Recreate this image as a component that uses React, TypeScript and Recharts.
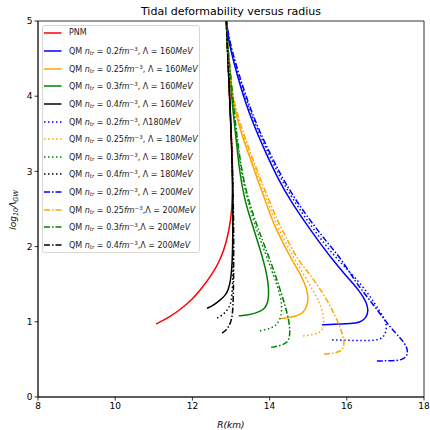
import React from "react";
import { LineChart, Line, XAxis, YAxis, ReferenceArea } from "recharts";

type P = [number, number];

const xTicks = [8, 10, 12, 14, 16, 18];
const yTicks = [0, 1, 2, 3, 4, 5];

const pnm: P[] = [[11.06,0.97],[11.4,1.06],[11.68,1.16],[12.0,1.3],[12.2,1.42],[12.5,1.62],[12.72,1.82],[12.88,2.05],[13.0,2.35],[13.05,2.7],[13.04,3.1],[13.0,3.6],[12.96,4.0],[12.92,4.5],[12.88,5.0]];

const q02_160: P[] = [[15.36,0.96],[15.8,0.97],[16.1,0.975],[16.34,0.99],[16.5,1.05],[16.56,1.14],[16.52,1.25],[16.35,1.4],[16.0,1.6],[15.64,1.82],[15.3,2.05],[14.95,2.3],[14.55,2.6],[14.2,2.92],[13.9,3.25],[13.6,3.6],[13.35,3.95],[13.15,4.3],[13.0,4.6],[12.92,4.8],[12.88,5]];
const q025_160: P[] = [[14.24,1.04],[14.55,1.06],[14.79,1.09],[14.92,1.15],[15.0,1.26],[14.99,1.38],[14.92,1.5],[14.78,1.65],[14.58,1.82],[14.35,2.05],[14.1,2.3],[13.9,2.6],[13.68,2.9],[13.48,3.2],[13.3,3.45],[13.16,3.7],[13.02,4.0],[12.94,4.4],[12.9,4.7],[12.88,5]];
const q03_160: P[] = [[13.2,1.08],[13.45,1.09],[13.67,1.12],[13.84,1.16],[13.93,1.22],[13.98,1.33],[13.97,1.5],[13.9,1.7],[13.78,1.92],[13.64,2.15],[13.49,2.39],[13.34,2.65],[13.22,3.0],[13.14,3.4],[13.05,3.8],[12.97,4.3],[12.9,4.7],[12.88,5.0]];
const q04_160: P[] = [[12.38,1.18],[12.55,1.22],[12.72,1.29],[12.85,1.35],[12.93,1.42],[12.99,1.55],[13.02,1.7],[13.04,1.9],[13.05,2.3],[13.04,2.8],[13.02,3.3],[12.98,3.8],[12.94,4.3],[12.9,4.7],[12.88,5.0]];

const q02_180: P[] = [[15.62,0.76],[16.2,0.75],[16.6,0.75],[16.86,0.76],[16.99,0.82],[17.04,0.93],[16.98,1.05],[16.86,1.13],[16.6,1.35],[16.2,1.6],[15.77,1.82],[15.4,2.05],[15.04,2.3],[14.64,2.6],[14.27,2.92],[13.96,3.25],[13.65,3.6],[13.39,3.95],[13.18,4.3],[13.02,4.6],[12.93,4.8],[12.88,5]];
const q025_180: P[] = [[14.87,0.81],[15.1,0.83],[15.3,0.85],[15.4,0.92],[15.41,0.98],[15.39,1.1],[15.3,1.25],[15.12,1.42],[14.92,1.6],[14.66,1.82],[14.42,2.05],[14.17,2.3],[13.95,2.6],[13.72,2.9],[13.51,3.2],[13.33,3.45],[13.18,3.7],[13.03,4.0],[12.95,4.4],[12.9,4.7],[12.88,5]];
const q03_180: P[] = [[13.75,0.88],[13.92,0.9],[14.06,0.92],[14.18,0.96],[14.27,1.03],[14.32,1.14],[14.3,1.3],[14.2,1.48],[14.03,1.72],[13.86,1.95],[13.7,2.17],[13.55,2.4],[13.4,2.68],[13.26,3.0],[13.16,3.4],[13.07,3.8],[12.98,4.3],[12.91,4.7],[12.88,5]];
const q04_180: P[] = [[12.64,1.05],[12.78,1.09],[12.88,1.14],[12.96,1.2],[13.01,1.28],[13.04,1.45],[13.06,1.8],[13.06,2.3],[13.05,2.8],[13.02,3.3],[12.98,3.8],[12.94,4.3],[12.9,4.7],[12.88,5.0]];

const q02_200: P[] = [[16.78,0.48],[17.1,0.48],[17.46,0.49],[17.58,0.56],[17.57,0.66],[17.4,0.78],[17.12,0.93],[16.8,1.15],[16.5,1.35],[16.2,1.55],[15.88,1.82],[15.5,2.05],[15.12,2.3],[14.7,2.6],[14.32,2.92],[14.0,3.25],[13.68,3.6],[13.42,3.95],[13.2,4.3],[13.03,4.6],[12.94,4.8],[12.88,5]];
const q025_200: P[] = [[15.41,0.57],[15.65,0.58],[15.86,0.61],[15.93,0.68],[15.93,0.76],[15.85,0.9],[15.7,1.08],[15.49,1.29],[15.25,1.48],[15.0,1.66],[14.74,1.82],[14.5,2.05],[14.24,2.3],[14.0,2.6],[13.76,2.9],[13.54,3.2],[13.36,3.45],[13.2,3.7],[13.04,4.0],[12.96,4.4],[12.9,4.7],[12.88,5]];
const q03_200: P[] = [[14.04,0.66],[14.25,0.68],[14.42,0.71],[14.51,0.77],[14.53,0.87],[14.5,1.02],[14.4,1.22],[14.26,1.45],[14.1,1.7],[13.9,1.97],[13.73,2.2],[13.58,2.42],[13.42,2.68],[13.28,3.0],[13.17,3.4],[13.08,3.8],[12.99,4.3],[12.91,4.7],[12.88,5]];
const q04_200: P[] = [[12.77,0.85],[12.86,0.88],[12.93,0.93],[13.0,1.0],[13.04,1.1],[13.06,1.3],[13.07,1.7],[13.07,2.3],[13.05,2.8],[13.02,3.3],[12.98,3.8],[12.94,4.3],[12.9,4.7],[12.88,5.0]];

const RED = "#ff0000", BLUE = "#0000ff", ORANGE = "#ffa500", GREEN = "#008000", BLACK = "#000000";
const DOT = "1.5 2.5";
const DASHDOT = "6 2 1.5 2";

type S = { key: string; pts: P[]; color: string; dash?: string; n?: string; lam?: string; sep?: string; eq?: boolean };

const series: S[] = [
  { key: "pnm", pts: pnm, color: RED },
  { key: "a", pts: q02_160, color: BLUE, n: "0.2", lam: "160", sep: ", ", eq: true },
  { key: "b", pts: q025_160, color: ORANGE, n: "0.25", lam: "160", sep: ", ", eq: true },
  { key: "c", pts: q03_160, color: GREEN, n: "0.3", lam: "160", sep: ", ", eq: true },
  { key: "d", pts: q04_160, color: BLACK, n: "0.4", lam: "160", sep: ", ", eq: true },
  { key: "e", pts: q02_180, color: BLUE, dash: DOT, n: "0.2", lam: "180", sep: ", ", eq: false },
  { key: "f", pts: q025_180, color: ORANGE, dash: DOT, n: "0.25", lam: "180", sep: ", ", eq: true },
  { key: "g", pts: q03_180, color: GREEN, dash: DOT, n: "0.3", lam: "180", sep: ", ", eq: true },
  { key: "h", pts: q04_180, color: BLACK, dash: DOT, n: "0.4", lam: "180", sep: ", ", eq: true },
  { key: "i", pts: q02_200, color: BLUE, dash: DASHDOT, n: "0.2", lam: "200", sep: ", ", eq: true },
  { key: "j", pts: q025_200, color: ORANGE, dash: DASHDOT, n: "0.25", lam: "200", sep: ",", eq: true },
  { key: "k", pts: q03_200, color: GREEN, dash: DASHDOT, n: "0.3", lam: "200", sep: ",", eq: true },
  { key: "l", pts: q04_200, color: BLACK, dash: DASHDOT, n: "0.4", lam: "200", sep: ",", eq: true },
];

const FONT = "'DejaVu Sans', sans-serif";

const LegendLabel = ({ s }: { s: S }) => {
  if (!s.n) return <span>PNM</span>;
  return (
    <span>
      QM <i>n</i><sub style={{ fontSize: "0.7em", fontStyle: "italic", verticalAlign: "-0.25em" }}>tr</sub>
      {" = "}{s.n}<i>fm</i><sup style={{ fontSize: "0.7em", verticalAlign: "0.45em" }}>−3</sup>
      {s.sep}{s.eq ? "Λ = " : "Λ"}{s.lam}<i>MeV</i>
    </span>
  );
};

const LegendBox = () => (
  <div
    style={{
      position: "absolute",
      left: 42,
      top: 25,
      width: 158,
      height: 228,
      boxSizing: "border-box",
      border: "1px solid #d6d6d6",
      borderRadius: 3,
      background: "rgba(255,255,255,0.85)",
      fontFamily: FONT,
      fontSize: 8,
      color: "#222",
    }}
  >
    {series.map((s, i) => {
      const cy = 7.3 + i * 17.64;
      return (
        <div key={s.key} style={{ position: "absolute", left: 0, top: cy - 8, height: 16, display: "flex", alignItems: "center", whiteSpace: "nowrap", lineHeight: "16px" }}>
          <svg width={26} height={16} style={{ display: "block" }}>
            <line x1={1} x2={18.5} y1={8} y2={8} stroke={s.color} strokeWidth={1.5} strokeDasharray={s.dash} />
          </svg>
          <LegendLabel s={s} />
        </div>
      );
    })}
  </div>
);

export default function App() {
  return (
    <div style={{ position: "absolute", left: 0, top: 0, width: 430, height: 430, background: "#fff" }}>
      <LineChart width={430} height={430} margin={{ top: 21, right: 6, bottom: 0, left: 0 }}>
        <text x={231} y={15} textAnchor="middle" fontFamily={FONT} fontSize={11} fill="#000">
          Tidal deformability versus radius
        </text>
        <text x={16} y={210} transform="rotate(-90 16 210)" textAnchor="middle" fontFamily={FONT} fontSize={9} fontStyle="italic" fill="#000">
          log<tspan fontSize={6.5} dy={2}>10</tspan><tspan dy={-2}>Λ</tspan><tspan fontSize={6.5} dy={2}>GW</tspan>
        </text>
        <text x={231} y={428} textAnchor="middle" fontFamily={FONT} fontSize={9} fontStyle="italic" fill="#000">
          R(km)
        </text>
        <XAxis
          type="number"
          dataKey="x"
          domain={[8, 18]}
          ticks={xTicks}
          allowDataOverflow
          height={33}
          tickSize={3.5}
          tickMargin={2}
          stroke="#000"
          strokeWidth={0.8}
          tick={{ fontSize: 9, fontFamily: FONT, fill: "#000" }}
        />
        <YAxis
          type="number"
          dataKey="y"
          domain={[0, 5]}
          ticks={yTicks}
          allowDataOverflow
          width={38}
          tickSize={3.5}
          tickMargin={2}
          stroke="#000"
          strokeWidth={0.8}
          tick={{ fontSize: 9, fontFamily: FONT, fill: "#000" }}
        />
        <ReferenceArea x1={8} x2={18} y1={0} y2={5} fill="none" fillOpacity={0} stroke="#000" strokeWidth={0.8} ifOverflow="visible" />
        {series.map((s) => (
          <Line
            key={s.key}
            data={s.pts.map(([x, y]) => ({ x, y }))}
            dataKey="y"
            type="basis"
            stroke={s.color}
            strokeWidth={1.5}
            strokeDasharray={s.dash}
            dot={false}
            activeDot={false}
            isAnimationActive={false}
          />
        ))}
      </LineChart>
      <LegendBox />
    </div>
  );
}
